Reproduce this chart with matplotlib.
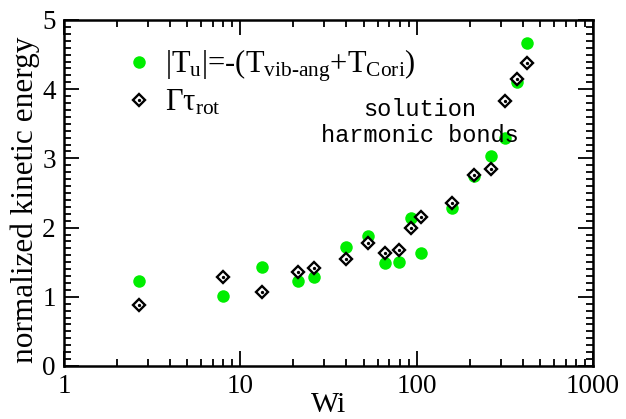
import numpy as np
import matplotlib.pyplot as plt
from matplotlib.legend_handler import HandlerTuple

plt.rcParams['font.family'] = 'Liberation Serif'
plt.rcParams['mathtext.fontset'] = 'custom'
plt.rcParams['mathtext.rm'] = 'Liberation Serif'
plt.rcParams['mathtext.it'] = 'Liberation Serif:italic'

# Weissenberg numbers and the two kinetic-energy estimates
wi = [2.66, 7.95, 13.3, 21.2, 26.3, 39.8, 53.0, 66.2, 79.5, 92.6, 106.0,
      158.7, 211.0, 263.0, 317.0, 370.0, 425.0]
t_u = [1.23, 1.01, 1.43, 1.23, 1.29, 1.72, 1.88, 1.49, 1.51, 2.14, 1.64,
       2.29, 2.75, 3.04, 3.30, 4.11, 4.67]
gamma_tau = [0.88, 1.29, 1.07, 1.36, 1.41, 1.54, 1.78, 1.63, 1.67, 1.99, 2.16,
             2.36, 2.76, 2.85, 3.83, 4.15, 4.38]

fig = plt.figure(figsize=(6.26, 4.19), dpi=100)
ax = fig.add_axes([0.1022, 0.1265, 0.8451, 0.8258])

green, = ax.plot(wi, t_u, 'o', color='#00ee00', markersize=9,
                 markeredgewidth=0, zorder=2)
dia, = ax.plot(wi, gamma_tau, 'D', markerfacecolor='white',
               markeredgecolor='black', markersize=6.3, markeredgewidth=1.7,
               zorder=3)
dot, = ax.plot(wi, gamma_tau, 'o', color='black', markersize=2.4,
               markeredgewidth=0, zorder=4)

ax.set_xscale('log')
ax.set_xlim(1, 1000)
ax.set_ylim(0, 5)
ax.set_yticks(range(6))
ax.set_yticks(np.arange(0, 5.01, 0.1), minor=True)
ax.set_xticks([1, 10, 100, 1000])
ax.set_xticklabels(['1', '10', '100', '1000'])

ax.tick_params(which='both', direction='in', top=True, right=True,
               labelsize=19.5, width=1.3)
ax.tick_params(which='major', length=11, pad=6)
ax.tick_params(which='minor', length=5)
for s in ax.spines.values():
    s.set_linewidth(1.8)

ax.set_xlabel('Wi', fontsize=21.5, labelpad=-5)
ax.set_ylabel('normalized kinetic energy', fontsize=22.5)
ax.yaxis.set_label_coords(-0.046, 0.48)

ax.legend([green, (dia, dot)],
          [r'|T$_{\rm u}$|=-(T$_{\text{vib-ang}}$+T$_{\rm Cori}$)',
           r'Γτ$_{\rm rot}$'],
          handler_map={tuple: HandlerTuple(ndivide=1, pad=0)},
          loc='upper left', bbox_to_anchor=(0.095, 0.955), frameon=False,
          fontsize=22, handlelength=0.8, handletextpad=0.45,
          labelspacing=0.12, borderaxespad=0)

ax.text(0.672, 0.703, 'solution\nharmonic bonds', transform=ax.transAxes,
        family='Liberation Mono', fontsize=17, ha='center', va='center',
        linespacing=1.15)

fig.savefig('out.png', dpi=100)
